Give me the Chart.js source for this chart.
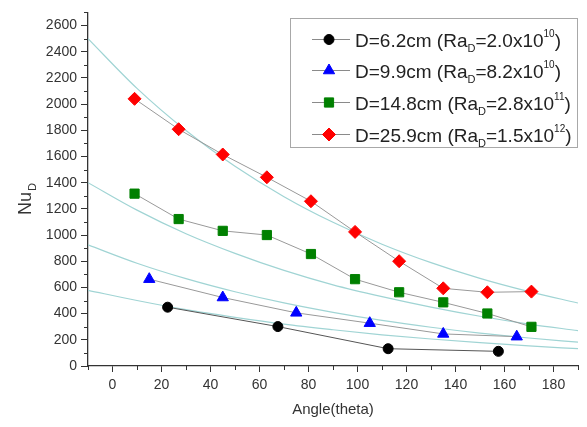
<!DOCTYPE html>
<html>
<head>
<meta charset="utf-8">
<script src="https://cdn.jsdelivr.net/npm/chart.js@4.4.1/dist/chart.umd.min.js"></script>
<style>
  html, body { margin: 0; padding: 0; background: #fff; }
  #wrap { width: 587px; height: 427px; }
</style>
</head>
<body>
<div id="wrap"><canvas id="nuChart" width="587" height="427"></canvas></div>
<script>
// measured points, one pair of arrays per diameter
const angle62 = [22.5, 67.5, 112.5, 157.5];
const nu62 = [449, 301, 132, 112];
const angle99 = [15, 45, 75, 105, 135, 165];
const nu99 = [663, 523, 406, 327, 245, 224];
const angle148 = [9, 27, 45, 63, 81, 99, 117, 135, 153, 171];
const nu148 = [1316, 1122, 1032, 1000, 855, 663, 563, 486, 401, 299];
const angle259 = [9, 27, 45, 63, 81, 99, 117, 135, 153, 171];
const nu259 = [2040, 1808, 1615, 1441, 1258, 1024, 800, 593, 563, 568];

// correlation curves, every 20 degrees
const fitAngles = [-10, 10, 30, 50, 70, 90, 110, 130, 150, 170, 190];
const fit62 = [578, 500, 430, 372, 320, 277, 238, 206, 178, 153, 132];
const fit99 = [925, 785, 667, 567, 482, 410, 348, 296, 251, 214, 182];
const fit148 = [1400, 1190, 1010, 860, 730, 620, 530, 450, 380, 320, 270];
const fit259 = [2500, 2120, 1798, 1525, 1293, 1097, 930, 789, 669, 568, 481];

// legend text pieces
const diameters = ['6.2', '9.9', '14.8', '25.9'];
const raMantissa = ['2.0', '8.2', '2.8', '1.5'];
const raExponent = ['10', '10', '11', '12'];

// axis ticks
const xTickValues = [0, 20, 40, 60, 80, 100, 120, 140, 160, 180];
const xMinorValues = [-10, 10, 30, 50, 70, 90, 110, 130, 150, 170, 190];
const yTickValues = [0, 200, 400, 600, 800, 1000, 1200, 1400, 1600, 1800, 2000, 2200, 2400, 2600];
const yMinorValues = [100, 300, 500, 700, 900, 1100, 1300, 1500, 1700, 1900, 2100, 2300, 2500, 2700];

const FONT = '"Liberation Sans", Arial, sans-serif';
const AXIS_COLOR = '#333';

function toPoints(xs, ys) {
  return xs.map((x, i) => ({ x: x, y: ys[i] }));
}

function measured(label, xs, ys, color, style, radius, lineColor) {
  return {
    label: label,
    data: toPoints(xs, ys),
    showLine: true,
    borderColor: lineColor,
    borderWidth: 1,
    pointStyle: style,
    pointRadius: radius,
    pointBackgroundColor: color,
    pointBorderColor: color,
    pointBorderWidth: 1,
    order: 0
  };
}

function fitCurve(ys) {
  return {
    label: 'fit',
    data: toPoints(fitAngles, ys),
    showLine: true,
    borderColor: 'rgb(160, 212, 212)',
    borderWidth: 1.2,
    pointRadius: 0,
    cubicInterpolationMode: 'monotone',
    order: 1
  };
}

// minor ticks and the y title with its subscript
const extrasPlugin = {
  id: 'extras',
  afterDraw(chart) {
    const ctx = chart.ctx;
    const xs = chart.scales.x;
    const ys = chart.scales.y;
    const area = chart.chartArea;
    ctx.save();
    ctx.strokeStyle = AXIS_COLOR;
    ctx.lineWidth = 1;
    ctx.beginPath();
    xMinorValues.forEach(v => {
      const px = Math.round(xs.getPixelForValue(v)) + 0.5;
      ctx.moveTo(px, area.bottom);
      ctx.lineTo(px, area.bottom + 4);
    });
    yMinorValues.forEach(v => {
      const py = Math.round(ys.getPixelForValue(v)) + 0.5;
      ctx.moveTo(area.left, py);
      ctx.lineTo(area.left - 4, py);
    });
    ctx.stroke();

    // y title "Nu" with subscript D
    ctx.translate(31, 215);
    ctx.rotate(-Math.PI / 2);
    ctx.fillStyle = AXIS_COLOR;
    ctx.textBaseline = 'alphabetic';
    ctx.textAlign = 'left';
    ctx.font = '18px ' + FONT;
    ctx.fillText('Nu', 0, 0);
    const w = ctx.measureText('Nu').width;
    ctx.font = '11px ' + FONT;
    ctx.fillText('D', w + 1, 5);
    ctx.restore();

    drawLegend(chart);
  }
};

function drawLegend(chart) {
  const ctx = chart.ctx;
  ctx.save();
  ctx.fillStyle = '#fff';
  ctx.fillRect(290.5, 18.5, 287, 129);
  ctx.strokeStyle = '#a8a8a8';
  ctx.lineWidth = 1;
  ctx.strokeRect(290.5, 18.5, 287, 129);

  for (let i = 0; i < 4; i++) {
    const ds = chart.data.datasets[i];
    const y = Math.round(38.5 + i * 31.7) + 0.5;
    ctx.strokeStyle = '#8a8a8a';
    ctx.beginPath();
    ctx.moveTo(312, y);
    ctx.lineTo(350, y);
    ctx.stroke();
    ctx.fillStyle = ds.pointBackgroundColor;
    ctx.strokeStyle = ds.pointBorderColor;
    Chart.helpers.drawPoint(ctx, { pointStyle: ds.pointStyle, radius: ds.pointRadius, rotation: 0, borderWidth: 1 }, 329, y);

    let x = 355;
    const base = y + 7;
    ctx.fillStyle = '#222';
    ctx.textBaseline = 'alphabetic';
    ctx.textAlign = 'left';
    const part = (txt, size, dy) => {
      ctx.font = size + 'px ' + FONT;
      ctx.fillText(txt, x, base + dy);
      x += ctx.measureText(txt).width;
    };
    part('D=' + diameters[i] + 'cm (Ra', 19, 0);
    part('D', 11, 5);
    part('=' + raMantissa[i] + 'x10', 19, 0);
    part(raExponent[i], 10, -10);
    part(')', 19, 0);
  }
  ctx.restore();
}

new Chart(document.getElementById('nuChart'), {
  type: 'scatter',
  data: {
    datasets: [
      measured('D=6.2cm', angle62, nu62, '#000000', 'circle', 5, '#555'),
      measured('D=9.9cm', angle99, nu99, '#0000ff', 'triangle', 6.5, '#999'),
      measured('D=14.8cm', angle148, nu148, '#008000', 'rect', 6.5, '#999'),
      measured('D=25.9cm', angle259, nu259, '#ff0000', 'rectRot', 6.5, '#999'),
      fitCurve(fit62),
      fitCurve(fit99),
      fitCurve(fit148),
      fitCurve(fit259)
    ]
  },
  options: {
    responsive: false,
    animation: false,
    devicePixelRatio: 1,
    layout: { padding: { left: 0, right: 9, top: 6, bottom: 0 } },
    plugins: {
      legend: { display: false },
      tooltip: { enabled: false }
    },
    scales: {
      x: {
        type: 'linear',
        min: -10,
        max: 190,
        afterBuildTicks: scale => { scale.ticks = xTickValues.map(v => ({ value: v })); },
        afterFit: scale => { scale.height = 61; },
        border: { display: true, color: AXIS_COLOR, width: 1.3 },
        grid: { display: true, drawOnChartArea: false, drawTicks: true, tickLength: 6, tickColor: AXIS_COLOR },
        ticks: { color: AXIS_COLOR, font: { family: FONT, size: 14 }, padding: 5, maxRotation: 0, callback: v => String(v) },
        title: { display: true, text: 'Angle(theta)', color: AXIS_COLOR, font: { family: FONT, size: 15 }, padding: { bottom: 8 } }
      },
      y: {
        type: 'linear',
        min: 0,
        max: 2700,
        afterBuildTicks: scale => { scale.ticks = yTickValues.map(v => ({ value: v })); },
        afterFit: scale => { scale.width = 88; },
        border: { display: true, color: AXIS_COLOR, width: 1.3 },
        grid: { display: true, drawOnChartArea: false, drawTicks: true, tickLength: 7, tickColor: AXIS_COLOR },
        ticks: { color: AXIS_COLOR, font: { family: FONT, size: 14 }, padding: 4, callback: v => String(v) }
      }
    }
  },
  plugins: [extrasPlugin]
});
</script>
</body>
</html>
